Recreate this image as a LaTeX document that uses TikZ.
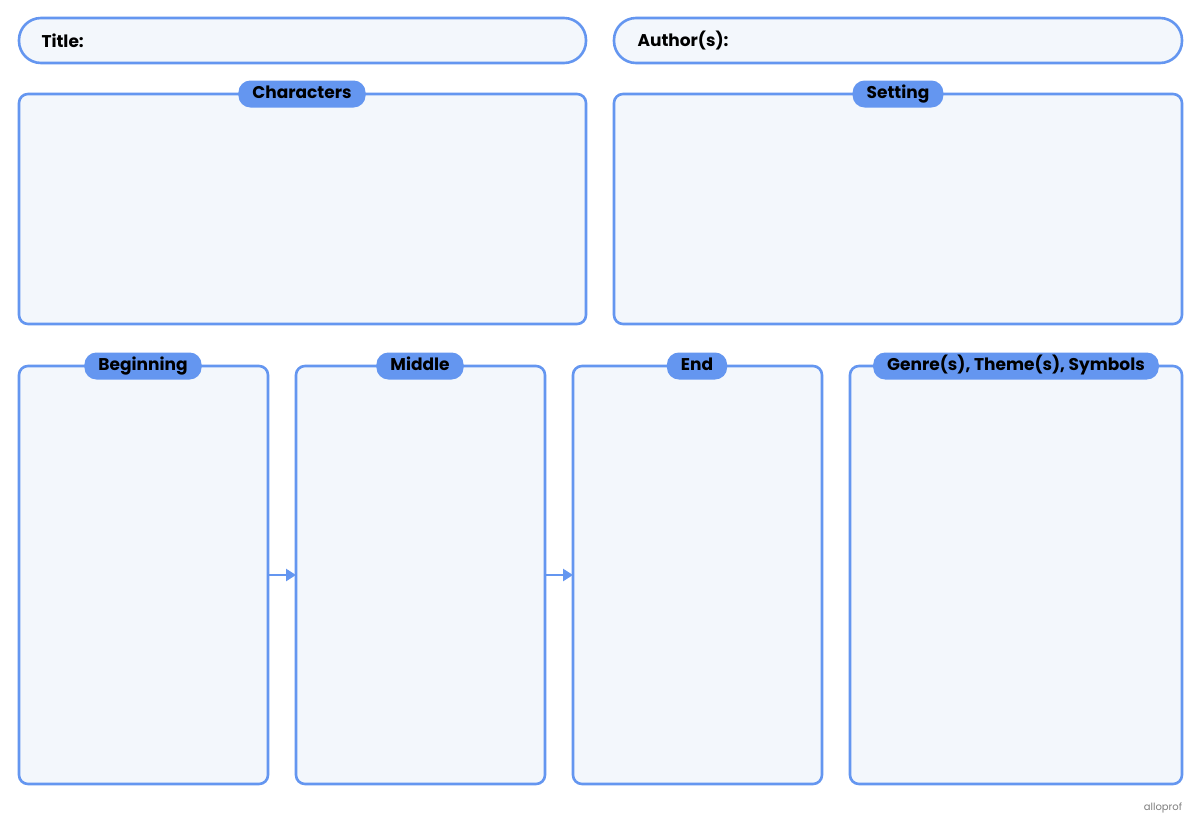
\documentclass[tikz,border=0pt]{standalone}
\usepackage{fontspec}
\setmainfont{Poppins}
\usetikzlibrary{arrows.meta}
\definecolor{bl}{RGB}{100,150,240}
\definecolor{fl}{RGB}{243,247,252}
\tikzset{
 panel/.style={draw=bl,fill=fl,line width=2.6pt,rounded corners=9pt},
 pill/.style={draw=bl,fill=fl,line width=2.6pt,rounded corners=22pt},
 tag/.style={fill=bl,rounded corners=12pt,minimum height=27pt,inner xsep=14pt,text height=12pt,text depth=3.5pt,font=\fontsize{17}{20}\selectfont\bfseries,text=black},
 flow/.style={draw=bl,line width=2.6pt,-{Triangle[length=10pt,width=12pt]}}
}
\begin{document}
\begin{tikzpicture}[x=1pt,y=-1pt]
\useasboundingbox (0,0) rectangle (1200,831);
\fill[white] (0,0) rectangle (1200,831);
\draw[pill] (19,18) rectangle (586,63);
\node[anchor=west,font=\fontsize{17}{20}\selectfont\bfseries] (tt) at (38,41) {Title:};
\draw[pill] (614,18) rectangle (1182,63);
\node[anchor=west,font=\fontsize{17}{20}\selectfont\bfseries] (au) at (634,41) {Author(s):};
\draw[panel] (19,94) rectangle (586,324);
\node[tag] (ch) at (302,94) {Characters};
\draw[panel] (614,94) rectangle (1182,324);
\node[tag] (se) at (898,94) {Setting};
\draw[panel] (19,366) rectangle (268,784);
\coordinate (b) at (268,575);
\node[tag] at (143,366) {Beginning};
\draw[panel] (296,366) rectangle (545,784);
\coordinate (m1) at (296,575); \coordinate (m2) at (545,575);
\node[tag] at (420,366) {Middle};
\draw[panel] (573,366) rectangle (822,784);
\coordinate (e) at (573,575);
\node[tag] at (697,366) {End};
\draw[panel] (850,366) rectangle (1182,784);
\node[tag] at (1016,366) {Genre(s), Theme(s), Symbols};
\draw[flow] (b) -- (m1);
\draw[flow] (m2) -- (e);
\node[text=gray,font=\fontsize{10}{12}\selectfont] (lg) at (1163,808) {alloprof};
\end{tikzpicture}
\end{document}
